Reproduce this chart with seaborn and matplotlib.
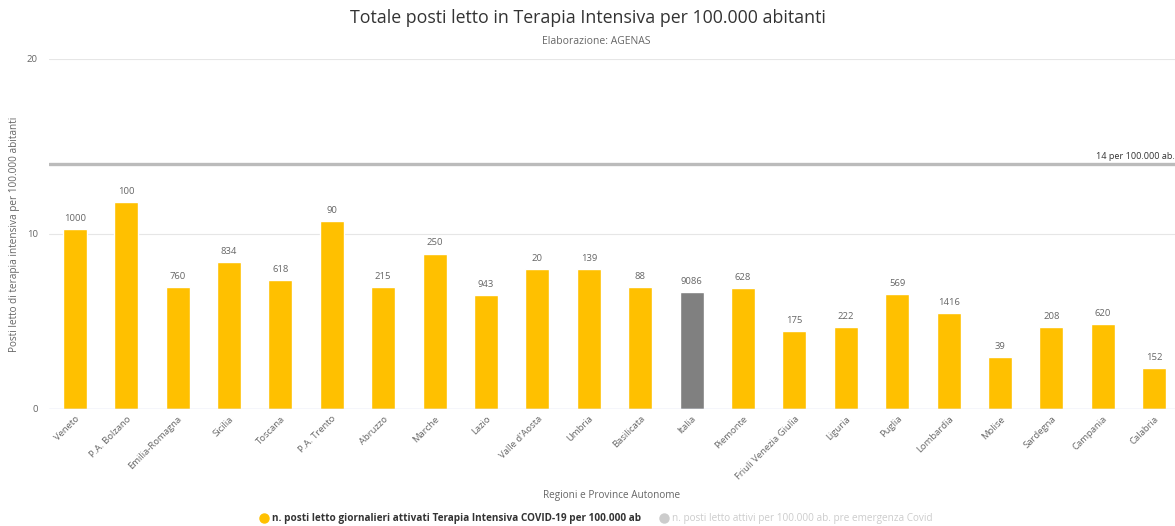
import matplotlib
matplotlib.use("Agg")
import matplotlib.pyplot as plt
from matplotlib.lines import Line2D
import seaborn as sns
import pandas as pd

regions = ["Veneto", "P.A. Bolzano", "Emilia-Romagna", "Sicilia", "Toscana", "P.A. Trento",
           "Abruzzo", "Marche", "Lazio", "Valle d'Aosta", "Umbria", "Basilicata", "Italia",
           "Piemonte", "Friuli Venezia Giulia", "Liguria", "Puglia", "Lombardia", "Molise",
           "Sardegna", "Campania", "Calabria"]
rate = [10.29, 11.82, 6.98, 8.37, 7.38, 10.71, 6.98, 8.87, 6.50, 7.99, 7.99, 6.98, 6.65,
        6.88, 4.46, 4.67, 6.58, 5.47, 2.94, 4.67, 4.86, 2.31]
beds = [1000, 100, 760, 834, 618, 90, 215, 250, 943, 20, 139, 88, 9086, 628, 175, 222,
        569, 1416, 39, 208, 620, 152]
threshold = 14
threshold_label = "14 per 100.000 ab."

title = "Totale posti letto in Terapia Intensiva per 100.000 abitanti"
subtitle = "Elaborazione: AGENAS"
ylabel = "Posti letto di terapia intensiva per 100.000 abitanti"
xlabel = "Regioni e Province Autonome"
legend_labels = ["n. posti letto giornalieri attivati Terapia Intensiva COVID-19 per 100.000 ab",
                 "n. posti letto attivi per 100.000 ab. pre emergenza Covid"]

YELLOW = "#FFC000"
GREY = "#808080"
colors = [GREY if r == "Italia" else YELLOW for r in regions]

df = pd.DataFrame({"region": regions, "rate": rate, "beds": beds})

sns.set_theme(style="white")
plt.rcParams["font.family"] = ["Open Sans", "DejaVu Sans"]

fig = plt.figure(figsize=(11.75, 5.26), dpi=100)
ax = fig.add_axes([49 / 1175, 1 - 408.7 / 526, 1131 / 1175, (408.7 - 59) / 526])

sns.barplot(data=df, x="region", y="rate", hue="region", palette=colors, legend=False,
            width=0.467, saturation=1, ax=ax)

ax.set_ylim(0, 20)
ax.set_xlim(-0.5, len(regions) - 0.5)
ax.set_yticks([0, 10, 20])
for y in [10, 20]:
    ax.axhline(y, color="#e6e6e6", lw=0.8, zorder=0)
ax.axhline(0, color="#ccd6eb", lw=1.0, zorder=3)
for s in ax.spines.values():
    s.set_visible(False)

ax.axhline(threshold, color="#bbbbbb", lw=2.4, zorder=2)
ax.text(1126 / 1131, threshold + 0.15, threshold_label, transform=ax.get_yaxis_transform(),
        ha="right", va="bottom", fontsize=6.6, color="#333333")

for i, (v, b) in enumerate(zip(rate, beds)):
    ax.text(i, v + 0.35, str(b), ha="center", va="bottom", fontsize=6.8, color="#666666")

ax.tick_params(axis="y", labelsize=6.8, labelcolor="#666666", length=0, pad=8)
ax.tick_params(axis="x", labelsize=6.8, labelcolor="#666666", length=0, pad=4)
ax.set_xticks(range(len(regions)))
ax.set_xticklabels(regions, rotation=45, ha="right", rotation_mode="anchor")
ax.set_xlabel(xlabel, fontsize=7.2, color="#666666")
ax.xaxis.set_label_coords(0.5 - 0.003, -0.232)
ax.set_ylabel(ylabel, fontsize=7.2, color="#666666")
ax.yaxis.set_label_coords(-0.026, 0.5)

fig.text(588 / 1175, 1 - 18 / 526, title, ha="center", va="center", fontsize=12.8, color="#333333")
fig.text(596 / 1175, 1 - 41 / 526, subtitle, ha="center", va="center", fontsize=7.5, color="#666666")

handles = [Line2D([], [], marker="o", ls="", color=YELLOW, markersize=6.5),
           Line2D([], [], marker="o", ls="", color="#cccccc", markersize=6.5)]
leg = fig.legend(handles, legend_labels, loc="center", bbox_to_anchor=(596 / 1175, 1 - 519 / 526),
                 ncol=2, frameon=False, fontsize=7.2, handletextpad=0.3, columnspacing=1.8,
                 handlelength=1.0)
t0, t1 = leg.get_texts()
t0.set_color("#333333")
t0.set_fontweight("bold")
t1.set_color("#cccccc")

fig.savefig("out.png", dpi=100)
